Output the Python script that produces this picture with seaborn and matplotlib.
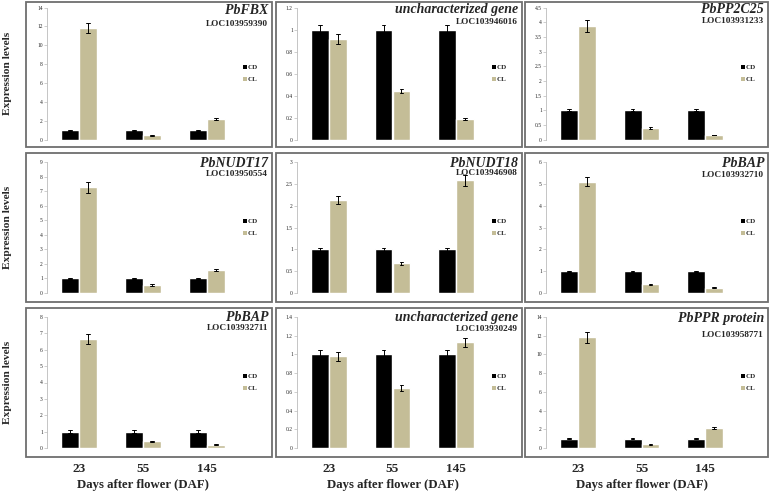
import numpy as np
import pandas as pd
import matplotlib
matplotlib.use("Agg")
import matplotlib.pyplot as plt
from matplotlib.lines import Line2D
import seaborn as sns

# ---------------- data ----------------
days = ["23", "55", "145"]
conditions = ["CD", "CL"]
genes = ["PbFBX", "uncharacterized gene", "PbPP2C25",
         "PbNUDT17", "PbNUDT18", "PbBAP",
         "PbBAP", "uncharacterized gene", "PbPPR protein"]
loci = ["LOC103959390", "LOC103946016", "LOC103931233",
        "LOC103950554", "LOC103946908", "LOC103932710",
        "LOC103932711", "LOC103930249", "LOC103958771"]

cd_values = [[1, 1, 1]] * 9
cd_errors = [[0.05, 0.05, 0.05], [0.045, 0.045, 0.045], [0.04, 0.04, 0.04],
             [0.03, 0.03, 0.03], [0.04, 0.04, 0.04], [0.03, 0.03, 0.03],
             [0.08, 0.08, 0.08], [0.05, 0.05, 0.05], [0.03, 0.03, 0.03]]
cl_values = [[11.85, 0.45, 2.15], [0.915, 0.44, 0.185], [3.87, 0.40, 0.15],
             [7.25, 0.55, 1.60], [2.13, 0.68, 2.58], [5.10, 0.40, 0.25],
             [6.65, 0.40, 0.20], [0.98, 0.64, 1.13], [11.85, 0.40, 2.15]]
cl_errors = [[0.55, 0.05, 0.12], [0.045, 0.02, 0.008], [0.20, 0.03, 0.01],
             [0.38, 0.05, 0.08], [0.10, 0.03, 0.13], [0.22, 0.03, 0.02],
             [0.32, 0.04, 0.02], [0.05, 0.03, 0.05], [0.60, 0.05, 0.10]]
y_max = [14, 1.2, 4.5, 9, 3, 6, 8, 1.4, 14]
y_step = [2, 0.2, 0.5, 1, 0.5, 1, 1, 0.2, 2]

# ---------------- style ----------------
sns.set_theme(style="white")
plt.rcParams["font.family"] = ["Liberation Serif", "DejaVu Serif"]
plt.rcParams["font.weight"] = "bold"

W, H = 770, 493
fig = plt.figure(figsize=(W / 100, H / 100), dpi=100)
fig.patch.set_facecolor("white")

def rect(l, t, r, b):
    return [l / W, 1 - b / H, (r - l) / W, (b - t) / H]

panel_cols = [(26, 272), (276, 522), (525, 768)]
panel_rows = [(2, 147), (153, 302), (308, 457)]
ax_cols = [(47, 239), (297, 488), (546, 737)]
ax_rows = [(7.5, 139.5), (162, 293), (317, 448)]
title_base = [[14, 13, 13], [167, 167, 167], [321, 321, 322]]
loc_base = [[26, 24, 23], [176, 175, 177], [330, 331, 337]]

palette = {"CD": "#000000", "CL": "#C4BD97"}

for k in range(9):
    r, c = divmod(k, 3)
    pl, pr = panel_cols[c]
    pt, pb = panel_rows[r]
    fig.patches.append(plt.Rectangle((pl / W, 1 - pb / H), (pr - pl) / W, (pb - pt) / H,
                                     transform=fig.transFigure, fill=False,
                                     edgecolor="#6E6E6E", linewidth=1.3, zorder=0))
    rows = []
    for j, d in enumerate(days):
        for cond, vals, errs in (("CD", cd_values[k], cd_errors[k]),
                                 ("CL", cl_values[k], cl_errors[k])):
            rows.append({"day": d, "cond": cond, "val": vals[j] - errs[j]})
            rows.append({"day": d, "cond": cond, "val": vals[j] + errs[j]})
    df = pd.DataFrame(rows)

    al, ar = ax_cols[c]
    at, ab = ax_rows[r]
    ax = fig.add_axes(rect(al, at, ar, ab))
    sns.barplot(data=df, x="day", y="val", hue="cond", order=days,
                hue_order=conditions, palette=palette, width=0.56, gap=0,
                errorbar=lambda v: (v.min(), v.max()), capsize=0.12,
                err_kws={"color": "black", "linewidth": 0.7},
                saturation=1, legend=False, ax=ax)
    ax.set_xlim(-0.5, 2.5)
    ax.set_ylim(0, y_max[k])
    ticks = np.arange(0, y_max[k] + y_step[k] / 2, y_step[k])
    ax.set_yticks(ticks)
    ax.set_yticklabels(["{:g}".format(round(t, 2)) for t in ticks],
                       fontsize=4, fontweight="normal")
    ax.tick_params(axis="y", length=2, width=0.5, color="#BBBBBB", pad=1, left=True)
    ax.set_ylabel("")
    ax.set_xlabel("")
    for s in ("top", "right", "bottom"):
        ax.spines[s].set_visible(False)
    ax.spines["left"].set_color("#BBBBBB")
    ax.spines["left"].set_linewidth(0.6)
    ax.patch.set_alpha(0)
    if r == 2:
        ax.set_xticks(range(3))
        ax.set_xticklabels(days, fontsize=9.5, fontweight="bold")
        ax.tick_params(axis="x", length=0, pad=11)
        ax.set_xlabel("Days after flower (DAF)", fontsize=9.2,
                      fontweight="bold", labelpad=3)
    else:
        ax.set_xticks([])
    handles = [Line2D([], [], linestyle="none", marker="s", markersize=3.2,
                      markerfacecolor=palette[cnd], markeredgewidth=0)
               for cnd in conditions]
    ax.legend(handles, conditions, loc="center left", bbox_to_anchor=(1.02, 0.5),
              frameon=False, fontsize=5, handlelength=0.5, handletextpad=0.25,
              labelspacing=0.9, borderaxespad=0, borderpad=0)

    fig.text((pr - 4) / W, 1 - title_base[r][c] / H, genes[k], ha="right",
             va="baseline", fontsize=10, fontweight="bold", style="italic")
    fig.text((pr - 4) / W, 1 - loc_base[r][c] / H, loci[k], ha="right",
             va="baseline", fontsize=6.7, fontweight="bold")

for r in range(3):
    yc = (ax_rows[r][0] + ax_rows[r][1]) / 2
    fig.text(8 / W, 1 - yc / H, "Expression levels", rotation=90,
             ha="center", va="center", fontsize=8.2, fontweight="bold")

fig.savefig("out.png", dpi=100)
